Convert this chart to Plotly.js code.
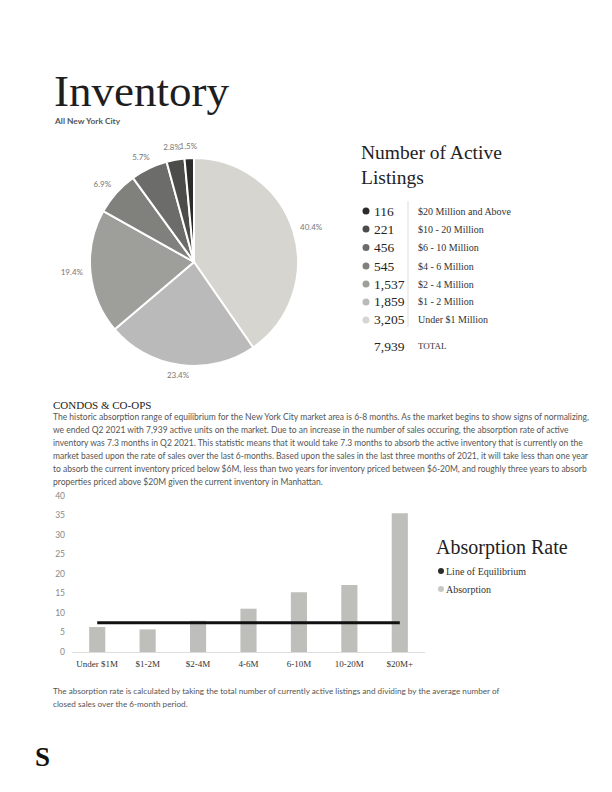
<!DOCTYPE html>
<html>
<head>
<meta charset="utf-8">
<script src="https://cdn.plot.ly/plotly-3.0.1.min.js"></script>
<style>
html, body { margin: 0; padding: 0; background: #fff; }
#chart { width: 612px; height: 792px; }
</style>
</head>
<body>
<div id="chart"></div>
<script>
// active listings by price band (top of the list first)
const bands = ["$20 Million and Above", "$10 - 20 Million", "$6 - 10 Million", "$4 - 6 Million", "$2 - 4 Million", "$1 - 2 Million", "Under $1 Million"];
const listings = [116, 221, 456, 545, 1537, 1859, 3205];
const listingLabels = ["116", "221", "456", "545", "1,537", "1,859", "3,205"];
const totalLabel = "7,939";
const bandColors = ["#2c2c2c", "#4c4c4b", "#6c6c6a", "#80807d", "#9e9e9a", "#bababa", "#d6d5d0"];

// absorption rate (months) by price band
const rateCats = ["Under $1M", "$1-2M", "$2-4M", "4-6M", "6-10M", "10-20M", "$20M+"];
const absorption = [6.4, 5.8, 8.0, 11.1, 15.3, 17.2, 35.6];
const equilibrium = [7.5, 7.5, 7.5, 7.5, 7.5, 7.5, 7.5];
const yTicks = [0, 5, 10, 15, 20, 25, 30, 35, 40];

const bodyLines = [
    "The historic absorption range of equilibrium for the New York City market area is 6-8 months. As the market begins to show signs of normalizing,",
    "we ended Q2 2021 with 7,939 active units on the market. Due to an increase in the number of sales occuring, the absorption rate of active",
    "inventory was 7.3 months in Q2 2021. This statistic means that it would take 7.3 months to absorb the active inventory that is currently on the",
    "market based upon the rate of sales over the last 6-months. Based upon the sales in the last three months of 2021, it will take less than one year",
    "to absorb the current inventory priced below $6M, less than two years for inventory priced between $6-20M, and roughly three years to absorb",
    "properties priced above $20M given the current inventory in Manhattan."
];
const footLines = [
    "The absorption rate is calculated by taking the total number of currently active listings and dividing by the average number of",
    "closed sales over the 6-month period."
];

const W = 612, H = 792;
const X = p => p / W;
const Y = p => 1 - p / H;

const SERIF = "Liberation Serif, Times New Roman, serif";
const SANS = "Lato, Open Sans, sans-serif";

function txt(x, y, text, size, family, color, anchor) {
    return {
        xref: "paper", yref: "paper", x: X(x), y: Y(y),
        xanchor: anchor || "left", yanchor: "middle",
        text: text, showarrow: false,
        font: { family: family, size: size, color: color }
    };
}

const annotations = [];
const shapes = [];

annotations.push(txt(52, 91, "Inventory", 45, SERIF, "#1e1e1e"));
annotations.push(txt(52, 121, "<b>All New York City</b>", 8.4, SANS, "#555"));

annotations.push(txt(359, 152, "Number of Active", 19.5, SERIF, "#222"));
annotations.push(txt(359, 177, "Listings", 19.5, SERIF, "#222"));

const rowY = [211, 229, 247.5, 266, 284, 302, 320];
listings.forEach((v, i) => {
    shapes.push({ type: "circle", xref: "paper", yref: "paper",
        x0: X(362.5), x1: X(369.5), y0: Y(rowY[i] + 3.5), y1: Y(rowY[i] - 3.5),
        fillcolor: bandColors[i], line: { width: 0 } });
    annotations.push(txt(372, rowY[i], listingLabels[i], 13.5, SERIF, "#222"));
    annotations.push(txt(416, rowY[i], bands[i], 10, SERIF, "#333"));
});
shapes.push({ type: "line", xref: "paper", yref: "paper",
    x0: X(408), x1: X(408), y0: Y(201), y1: Y(327), line: { color: "#ddd", width: 1 } });
annotations.push(txt(372, 346, totalLabel, 13.5, SERIF, "#222"));
annotations.push(txt(416, 346, "TOTAL", 9, SERIF, "#333"));

annotations.push(txt(51, 405, "CONDOS &amp; CO-OPS", 11, SERIF, "#222"));
bodyLines.forEach((l, i) => annotations.push(txt(51, 417 + 13 * i, l, 8.5, SANS, "#555")));

annotations.push(txt(434, 547, "Absorption Rate", 20, SERIF, "#222"));
shapes.push({ type: "circle", xref: "paper", yref: "paper",
    x0: X(438), x1: X(444), y0: Y(574), y1: Y(568), fillcolor: "#2c2c2c", line: { width: 0 } });
shapes.push({ type: "circle", xref: "paper", yref: "paper",
    x0: X(438), x1: X(444), y0: Y(592), y1: Y(586), fillcolor: "#c8c8c6", line: { width: 0 } });
annotations.push(txt(444, 571, "Line of Equilibrium", 10, SERIF, "#333"));
annotations.push(txt(444, 589, "Absorption", 10, SERIF, "#333"));

footLines.forEach((l, i) => annotations.push(txt(51, 691 + 13 * i, l, 8.2, SANS, "#555")));
annotations.push(txt(33, 757, "<b>S</b>", 27, SERIF, "#111"));

// pie runs clockwise from 12 o'clock, largest band first
const pieValues = listings.slice().reverse();
const pieLabels = bands.slice().reverse();
const pieColors = bandColors.slice().reverse();
const PIE_CX = 194, PIE_CY = 262, PIE_R = 104;
const pieDomain = { x: [X(PIE_CX - PIE_R), X(PIE_CX + PIE_R)], y: [Y(PIE_CY + PIE_R), Y(PIE_CY - PIE_R)] };

// percent labels sit just outside the rim, on each slice's middle angle
const total = pieValues.reduce((a, b) => a + b, 0);
const lblX = [], lblY = [], lblT = [];
let acc = 0;
pieValues.forEach(v => {
    const a = 2 * Math.PI * (acc + v / 2) / total;
    acc += v;
    const s = Math.sin(a), c = Math.cos(a);
    lblX.push(1.1 * s + 0.08 * s);
    lblY.push(1.07 * c + 0.04 * c);
    lblT.push((100 * v / total).toFixed(1) + "%");
});

const pie = {
    type: "pie",
    values: pieValues,
    labels: pieLabels,
    marker: { colors: pieColors, line: { color: "#fff", width: 2 } },
    sort: false,
    direction: "clockwise",
    rotation: 0,
    textinfo: "none",
    domain: pieDomain,
    showlegend: false
};

const pieText = {
    type: "scatter",
    mode: "text",
    x: lblX,
    y: lblY,
    text: lblT,
    textposition: "middle center",
    textfont: { family: SANS, size: 8, color: "#777" },
    cliponaxis: false,
    xaxis: "x2", yaxis: "y2",
    hoverinfo: "skip",
    showlegend: false
};

const bars = {
    type: "bar",
    x: rateCats,
    y: absorption,
    name: "Absorption",
    marker: { color: "#bebebb" },
    xaxis: "x", yaxis: "y",
    showlegend: false
};

const eqLine = {
    type: "scatter",
    mode: "lines",
    x: rateCats,
    y: equilibrium,
    name: "Line of Equilibrium",
    line: { color: "#111", width: 3 },
    xaxis: "x", yaxis: "y",
    showlegend: false
};

// label axes: one unit = pie radius, a bit wider than the pie itself
const LR = 1.4;
const layout = {
    width: W, height: H,
    margin: { l: 0, r: 0, t: 0, b: 0 },
    paper_bgcolor: "#fff",
    plot_bgcolor: "rgba(0,0,0,0)",
    showlegend: false,
    bargap: 0.68,
    xaxis: {
        domain: [X(72), X(425)],
        anchor: "y",
        showgrid: false, zeroline: false,
        showline: true, linecolor: "#ddd", linewidth: 1,
        ticks: "",
        ticklabelstandoff: 3,
        tickfont: { family: SERIF, size: 9, color: "#333" },
        fixedrange: true
    },
    yaxis: {
        domain: [Y(652), Y(496)],
        anchor: "x",
        range: [0, 40],
        tickvals: yTicks,
        showgrid: false, zeroline: false, showline: false,
        ticks: "",
        ticklabelstandoff: 6,
        tickfont: { family: SANS, size: 8.5, color: "#888" },
        fixedrange: true
    },
    xaxis2: {
        domain: [X(PIE_CX - LR * PIE_R), X(PIE_CX + LR * PIE_R)],
        range: [-LR, LR], anchor: "y2", visible: false, fixedrange: true
    },
    yaxis2: {
        domain: [Y(PIE_CY + LR * PIE_R), Y(PIE_CY - LR * PIE_R)],
        range: [-LR, LR], anchor: "x2", visible: false, fixedrange: true
    },
    annotations: annotations,
    shapes: shapes
};

Plotly.newPlot("chart", [pie, pieText, bars, eqLine], layout, { displayModeBar: false, staticPlot: true });
</script>
</body>
</html>
